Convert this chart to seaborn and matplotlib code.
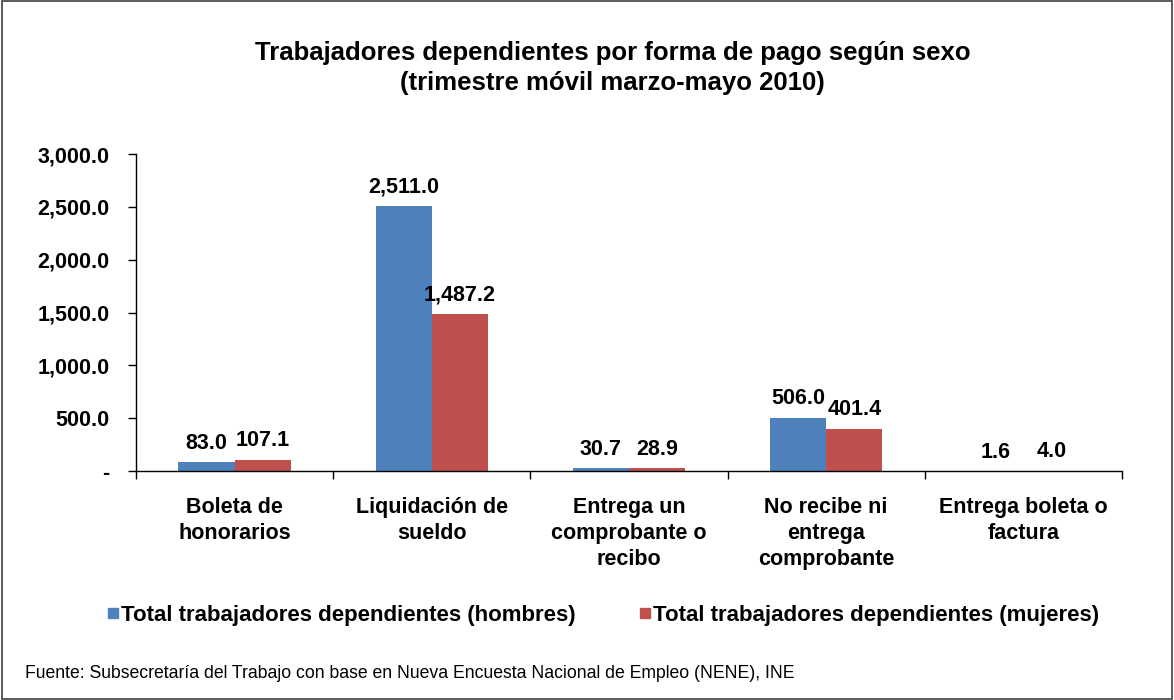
import matplotlib
matplotlib.use("Agg")
import matplotlib.pyplot as plt
import seaborn as sns
import pandas as pd
from matplotlib.lines import Line2D
from matplotlib.patches import Rectangle
from matplotlib.ticker import FuncFormatter, FixedLocator

categories = ["Boleta de\nhonorarios", "Liquidación de\nsueldo", "Entrega un\ncomprobante o\nrecibo",
              "No recibe ni\nentrega\ncomprobante", "Entrega boleta o\nfactura"]
series_names = ["Total trabajadores dependientes (hombres)", "Total trabajadores dependientes (mujeres)"]
hombres = [83.0, 2511.0, 30.7, 506.0, 1.6]
mujeres = [107.1, 1487.2, 28.9, 401.4, 4.0]
colors = ["#4F81BD", "#C0504D"]
title = "Trabajadores dependientes por forma de pago según sexo\n(trimestre móvil marzo-mayo 2010)"
source = "Fuente: Subsecretaría del Trabajo con base en Nueva Encuesta Nacional de Empleo (NENE), INE"

df = pd.DataFrame({
    "cat": categories * 2,
    "serie": [series_names[0]] * len(categories) + [series_names[1]] * len(categories),
    "valor": hombres + mujeres,
})

sns.set_style("white")
plt.rcParams["font.family"] = ["Liberation Sans", "DejaVu Sans"]
plt.rcParams["text.color"] = "black"
plt.rcParams["xtick.color"] = "black"
plt.rcParams["ytick.color"] = "black"

fig = plt.figure(figsize=(11.74, 7.0), dpi=100)
ax = fig.add_axes([0.1158, 0.327, 0.8399, 0.453])

sns.barplot(data=df, x="cat", y="valor", hue="serie", palette=colors, width=0.57,
            saturation=1, ax=ax, legend=False, errorbar=None, linewidth=0)

ax.set_xlim(-0.5, 4.5)
ax.set_ylim(0, 3000)
ax.set_yticks([0, 500, 1000, 1500, 2000, 2500, 3000])
ax.yaxis.set_major_formatter(FuncFormatter(lambda v, p: "-" if v == 0 else f"{v:,.1f}"))
ax.set_xlabel("")
ax.set_ylabel("")

for s in ["top", "right"]:
    ax.spines[s].set_visible(False)
for s in ["left", "bottom"]:
    ax.spines[s].set_color("black")
    ax.spines[s].set_linewidth(1.0)

ax.tick_params(axis="y", direction="out", length=6, width=1, color="black", left=True,
               labelsize=15.5, pad=13)
for lbl in ax.get_yticklabels():
    lbl.set_fontweight("bold")
ax.tick_params(axis="x", which="major", length=0, labelsize=15.5, pad=19)
for lbl in ax.get_xticklabels():
    lbl.set_fontweight("bold")
    lbl.set_linespacing(1.3)
ax.xaxis.set_minor_locator(FixedLocator([-0.5, 0.5, 1.5, 2.5, 3.5, 4.5]))
ax.tick_params(axis="x", which="minor", direction="out", length=6, width=1, color="black", bottom=True)

for cont in ax.containers:
    ax.bar_label(cont, labels=[f"{v:,.1f}" for v in cont.datavalues], padding=6,
                 fontsize=15.5, fontweight="bold")

fig.text(0.522, 0.903, title, ha="center", va="center", fontsize=18.5, fontweight="bold", linespacing=1.32)

handles = [Line2D([0], [0], marker="s", linestyle="none", markersize=7, markerfacecolor=c,
                  markeredgecolor=c) for c in colors]
fig.legend(handles, series_names, loc="center", bbox_to_anchor=(0.513, 0.121), ncol=2, frameon=False,
           prop={"size": 16, "weight": "bold"}, handletextpad=0.0, columnspacing=2.8, handlelength=0.7)

fig.text(0.021, 0.038, source, ha="left", va="center", fontsize=12.7)

fig.patches.append(Rectangle((0.002, 0.002), 0.996, 0.996, transform=fig.transFigure, fill=False,
                             edgecolor="#404040", linewidth=1.2))

fig.savefig("out.png", dpi=100)
